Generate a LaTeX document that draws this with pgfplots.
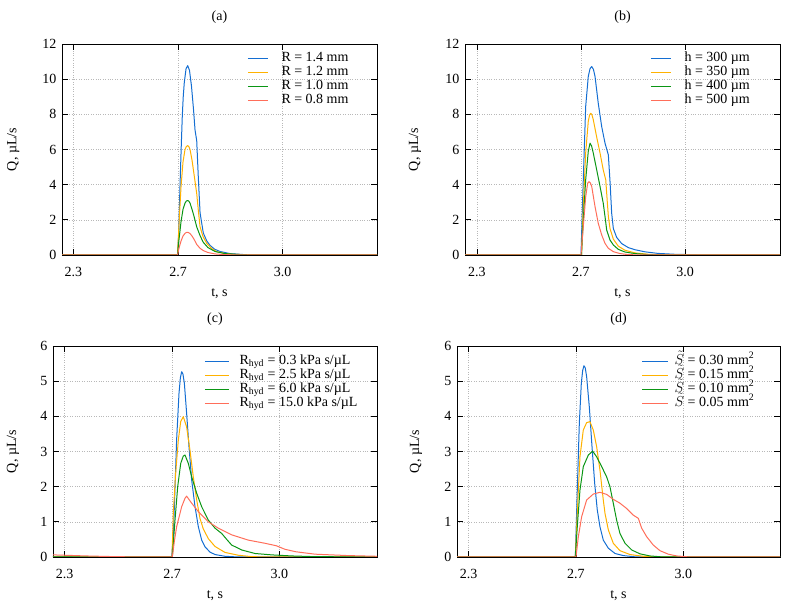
\documentclass[border=0pt]{standalone}
\usepackage{fontspec}
\setmainfont{Liberation Serif}
\usepackage{pgfplots}
\pgfplotsset{compat=1.18}
\definecolor{cB}{RGB}{20,110,210}
\definecolor{cO}{RGB}{255,178,0}
\definecolor{cG}{RGB}{10,150,20}
\definecolor{cR}{RGB}{255,110,90}
\pgfplotsset{
  panel/.style={
    scale only axis, anchor=south west,
    xtick={0,100,200}, xticklabels={2.3,2.7,3.0},
    tick align=inside, major tick length=6pt,
    grid=major,
    major grid style={dotted, black!28, line width=0.6pt},
    axis line style={line width=0.9pt},
    tick style={line width=0.8pt, black},
    every axis plot/.append style={line width=1pt, line join=round},
    /pgf/number format/assume math mode=true,
    legend cell align=left,
    legend style={draw=none, fill=none, inner sep=0pt, anchor=north west, column sep=13pt,
      nodes={inner sep=0pt, text height=10pt, text depth=4pt}},
    xlabel={t, s}, ylabel={Q, µL/s},
    xlabel style={at={(axis description cs:0.5,-0.185)}, anchor=center},
    title style={at={(axis description cs:0.5,1.0995)}, anchor=center, yshift=0pt},
    yticklabel style={xshift=-2pt},
    xticklabel style={yshift=-9pt},
  },
  top/.style={ymin=0, ymax=12, ytick={0,2,...,12}},
  bot/.style={ymin=0, ymax=6, ytick={0,1,...,6}},
}
\begin{document}
\begin{tikzpicture}[font=\fontsize{14}{16}\selectfont]
\useasboundingbox (0,0) rectangle (807pt,605pt);
% (a)
\begin{axis}[panel, top, at={(62pt,350pt)}, width=315pt, height=211pt,
  xmin=-11, xmax=290.4, title={(a)},
  ylabel style={at={(axis description cs:-0.155,0.5)}, anchor=center},
  legend style={at={(rel axis cs:0.587,0.966)}},
  legend image code/.code={\draw[#1, line width=1.4pt] (0pt,0pt) -- (20pt,0pt);}]
\addplot[cB] coordinates {(-11,0) (99.5,0) (100.5,1.0) (101.9,3.9) (103,6.0) (104.1,7.9) (105,9.0) (106.0,9.8) (107.7,10.6) (109.3,10.77) (111.0,10.5) (112.9,9.6) (114.8,8.3) (116.3,7.1) (117.9,6.5) (119.4,4.45) (121.1,2.4) (124.2,1.25) (127.5,0.8) (130.6,0.55) (135,0.33) (140.2,0.2) (149.7,0.08) (164,0.02) (180,0) (290.4,0)};
\addplot[cO] coordinates {(-11,0) (99.5,0) (101,1.8) (102.9,3.9) (104.8,5.3) (106.7,6.0) (108,6.17) (109.3,6.22) (110.5,6.15) (111.5,6.0) (113.4,5.4) (115.3,4.6) (117.9,3.5) (119.5,2.5) (121.1,1.6) (123.9,1.05) (127.5,0.66) (132.5,0.35) (137,0.19) (145,0.08) (152.6,0.04) (169,0.01) (180,0) (290.4,0)};
\addplot[cG] coordinates {(-11,0) (99.5,0) (101,0.9) (102.9,1.9) (104.8,2.6) (106.7,2.95) (108,3.07) (109.3,3.1) (110.5,3.05) (111.5,2.95) (113.4,2.6) (115.3,2.2) (117.9,1.6) (121.1,1.1) (124.2,0.72) (128.7,0.42) (135.4,0.2) (145,0.08) (159.8,0.02) (180,0) (290.4,0)};
\addplot[cR] coordinates {(-11,0) (99.5,0) (101,0.4) (102.9,0.8) (104.8,1.08) (106.7,1.23) (108,1.28) (109.3,1.29) (110.5,1.26) (111.5,1.22) (113.4,1.08) (115.3,0.9) (117.9,0.6) (121.1,0.38) (124.2,0.25) (128.7,0.14) (135.4,0.06) (145,0.02) (160,0) (290.4,0)};
\legend{R = 1.4 mm, R = 1.2 mm, R = 1.0 mm, R = 0.8 mm}
\end{axis}
% (b)
\begin{axis}[panel, top, at={(465pt,350pt)}, width=315pt, height=211pt,
  xmin=-11.5, xmax=291.3, title={(b)},
  ylabel style={at={(axis description cs:-0.159,0.5)}, anchor=center},
  legend style={at={(rel axis cs:0.587,0.966)}},
  legend image code/.code={\draw[#1, line width=1.4pt] (0pt,0pt) -- (20pt,0pt);}]
\addplot[cB] coordinates {(-11.5,0) (100,0) (101,2.0) (102.2,4.27) (104.5,8.44) (107,10.15) (108.7,10.6) (110.3,10.72) (112,10.55) (113.5,10.15) (116.6,8.63) (119.9,7.3) (123.1,6.36) (126.3,5.69) (128,4.08) (129.5,2.37) (131.1,1.5) (134.3,1.0) (139.1,0.65) (145.5,0.42) (151.9,0.3) (161.5,0.18) (174,0.09) (190.4,0.04) (214.4,0.01) (240,0) (291.3,0)};
\addplot[cO] coordinates {(-11.5,0) (100.5,0) (102.2,2.75) (104.5,5.8) (107,7.6) (108.2,7.95) (109.3,8.06) (110.5,7.98) (111.8,7.7) (115.1,6.7) (118.3,5.8) (121.4,4.84) (123.8,4.27) (125.3,3.0) (126.3,2.2) (127.9,1.5) (131.1,0.9) (135.9,0.5) (142.3,0.27) (151.9,0.12) (164.7,0.04) (185.6,0) (291.3,0)};
\addplot[cG] coordinates {(-11.5,0) (100.5,0) (102.2,2.0) (104.5,4.27) (107,5.9) (108.7,6.36) (110.2,6.2) (111.8,5.8) (115.1,4.84) (118.3,3.9) (121.4,2.94) (123.1,2.18) (124.7,1.42) (127.9,0.85) (131.1,0.57) (135.9,0.32) (142.3,0.17) (151.9,0.08) (164.7,0.02) (180,0) (291.3,0)};
\addplot[cR] coordinates {(-11.5,0) (100,0) (102.2,1.6) (104.5,3.3) (106.4,4.08) (107.7,4.17) (109,4.1) (110.3,3.9) (113.5,2.75) (116.6,1.8) (119.9,1.14) (123.1,0.66) (126.3,0.38) (131.1,0.19) (137.5,0.08) (145.5,0.02) (160,0) (291.3,0)};
\legend{h = 300 µm, h = 350 µm, h = 400 µm, h = 500 µm}
\end{axis}
% (c)
\begin{axis}[panel, bot, at={(53pt,48pt)}, width=324pt, height=211pt,
  xmin=-10.7, xmax=290.7, title={(c)},
  ylabel style={at={(axis description cs:-0.1235,0.5)}, anchor=center},
  legend style={at={(rel axis cs:0.466,0.962)}, column sep=10pt},
  legend image code/.code={\draw[#1, line width=1.4pt] (0pt,0pt) -- (24pt,0pt);}]
\addplot[cB] coordinates {(-10.7,0) (99.7,0) (101.2,0.6) (102.2,1.43) (104.3,3.33) (106.5,4.65) (107.8,5.1) (109.0,5.27) (110.2,5.2) (111.5,4.94) (113.6,4.09) (115.8,3.14) (118.3,2.19) (121.4,1.43) (124.5,0.86) (127.6,0.48) (130.7,0.29) (135.3,0.14) (140,0.07) (149.3,0.02) (161.7,0) (290.7,0)};
\addplot[cO] coordinates {(-10.7,0) (100,0) (101.2,1.24) (103.4,2.38) (105.9,3.33) (108.1,3.85) (110.5,3.99) (113.6,3.7) (116.7,3.04) (119.8,2.28) (123.0,1.62) (126.0,1.1) (129.1,0.8) (133.8,0.52) (140,0.3) (149.3,0.13) (161.7,0.05) (174.1,0.01) (190,0) (290.7,0)};
\addplot[cG] coordinates {(-10.7,0) (100.3,0) (102.8,1.05) (105.3,2.0) (108.1,2.66) (110.5,2.87) (112.1,2.9) (115.2,2.66) (118.3,2.28) (123.0,1.81) (127.6,1.43) (133.8,1.05) (140,0.82) (146.2,0.67) (150.9,0.5) (155.5,0.34) (164.8,0.2) (177.2,0.1) (192.7,0.06) (211.4,0.03) (233,0.01) (290.7,0)};
\addplot[cR] coordinates {(-10.7,0.06) (0,0.05) (20,0.03) (40,0.015) (60,0.005) (80,0) (100.3,0) (102.2,0.45) (104.3,0.86) (109.0,1.43) (112.1,1.67) (113.6,1.73) (118.3,1.53) (124.5,1.29) (133.8,1.0) (143.1,0.82) (155.5,0.63) (171,0.48) (186.5,0.39) (197,0.32) (205,0.22) (215,0.15) (233,0.08) (264,0.04) (290.7,0.02)};
\legend{R\textsubscript{hyd} = 0.3 kPa s/µL, R\textsubscript{hyd} = 2.5 kPa s/µL, R\textsubscript{hyd} = 6.0 kPa s/µL, R\textsubscript{hyd} = 15.0 kPa s/µL}
\end{axis}
% (d)
\begin{axis}[panel, bot, at={(457pt,48pt)}, width=323pt, height=211pt,
  xmin=-10.7, xmax=289.8, title={(d)},
  ylabel style={at={(axis description cs:-0.127,0.5)}, anchor=center},
  legend style={at={(rel axis cs:0.570,0.962)}, column sep=6pt},
  legend image code/.code={\draw[#1, line width=1.4pt] (0pt,0pt) -- (26pt,0pt);}]
\addplot[cB] coordinates {(-10.7,0) (99.4,0) (101.2,1.9) (103.1,3.8) (104.96,4.94) (106.2,5.3) (107.4,5.44) (108.6,5.38) (109.9,5.13) (112.4,4.27) (114.9,3.14) (117.4,2.09) (119.8,1.34) (122.3,0.86) (125.4,0.48) (130.1,0.25) (136.3,0.1) (144,0.04) (156.4,0) (289.8,0)};
\addplot[cO] coordinates {(-10.7,0) (99.4,0) (101.2,1.24) (103.7,2.85) (106.8,3.61) (109.9,3.82) (113.0,3.85) (116.1,3.61) (119.2,3.14) (122.3,2.47) (125.4,1.62) (127.0,1.24) (130.1,0.77) (134.7,0.39) (140.9,0.18) (150.2,0.07) (162.6,0.02) (175,0) (289.8,0)};
\addplot[cG] coordinates {(-10.7,0) (99.4,0) (101.2,0.86) (103.7,1.9) (106.8,2.57) (111.5,2.9) (115.5,3.01) (119.2,2.85) (123.9,2.57) (128.5,2.28) (131.6,2.0) (134.7,1.53) (137.8,1.05) (140.9,0.67) (145.6,0.39) (151.8,0.2) (159.5,0.09) (168.8,0.03) (181.2,0) (289.8,0)};
\addplot[cR] coordinates {(-10.7,0) (100,0) (102.2,0.58) (105.3,1.15) (109.9,1.62) (116.1,1.79) (122.3,1.84) (128.5,1.78) (134.7,1.64) (140.9,1.53) (147.1,1.38) (153.3,1.19) (158,1.1) (161.1,0.82) (165.7,0.58) (171.9,0.34) (178.1,0.18) (185.9,0.08) (193.6,0.03) (206,0) (289.8,0)};
\legend{$\tilde{S}$ = 0.30 mm\textsuperscript{2}, $\tilde{S}$ = 0.15 mm\textsuperscript{2}, $\tilde{S}$ = 0.10 mm\textsuperscript{2}, $\tilde{S}$ = 0.05 mm\textsuperscript{2}}
\end{axis}
\end{tikzpicture}
\end{document}
